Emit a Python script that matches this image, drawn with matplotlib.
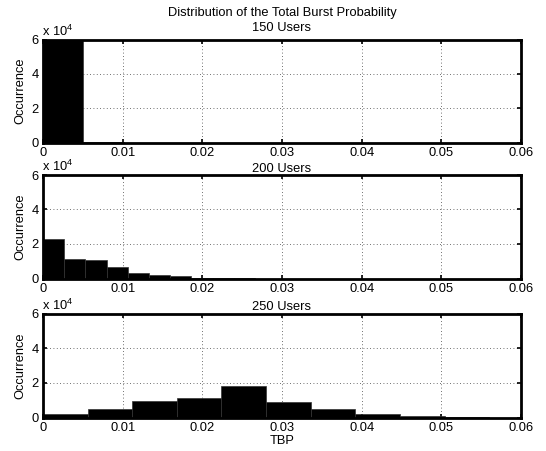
import numpy as np
import matplotlib
matplotlib.use("Agg")
import matplotlib.pyplot as plt

plt.rcParams['font.family'] = ['Liberation Sans', 'DejaVu Sans']
plt.rcParams['mathtext.fontset'] = 'custom'
plt.rcParams['mathtext.rm'] = 'Liberation Sans'
plt.rcParams['mathtext.it'] = 'Liberation Sans'

# ---- data ----
titles = ["Distribution of the Total Burst Probability\n150 Users", "200 Users", "250 Users"]

edges_150 = [0.0, 0.00506, 0.01012, 0.01518, 0.02024, 0.0253, 0.03036, 0.03542, 0.04048, 0.04554, 0.0506]
counts_150 = [59600, 400, 0, 0, 0, 0, 0, 0, 0, 0]

edges_200 = [0.0, 0.00266, 0.00532, 0.00798, 0.01064, 0.0133, 0.01596, 0.01862, 0.02128, 0.02394, 0.0266]
counts_200 = [22800, 11100, 10700, 6600, 3100, 2300, 1300, 500, 150, 50]

edges_250 = [0.0, 0.0056, 0.0112, 0.0168, 0.0224, 0.028, 0.0336, 0.0392, 0.0448, 0.0504, 0.056]
counts_250 = [2000, 4700, 9300, 11300, 18000, 8900, 5100, 2300, 1000, 400]

xticks = [0, 0.01, 0.02, 0.03, 0.04, 0.05, 0.06]
xticklabels = ["0", "0.01", "0.02", "0.03", "0.04", "0.05", "0.06"]
yticks = [0, 20000, 40000, 60000]
yticklabels = ["0", "2", "4", "6"]

panels = [(edges_150, counts_150), (edges_200, counts_200), (edges_250, counts_250)]

W, H = 546, 451
fig = plt.figure(figsize=(W / 100, H / 100), dpi=100)

# axes boxes in pixels: (top, bottom)
boxes = [(39.5, 142.5), (175, 278.5), (313.5, 417.5)]
left_px, right_px = 43, 521

fs = 9.3
for i, ((edges, counts), title, (tp, bp)) in enumerate(zip(panels, titles, boxes)):
    ax = fig.add_axes([left_px / W, 1 - bp / H, (right_px - left_px) / W, (bp - tp) / H])
    e = np.array(edges)
    ax.bar(e[:-1], counts, width=np.diff(e), align='edge', color='black',
           edgecolor='#333333', linewidth=0.5, zorder=2)
    ax.set_xlim(0, 0.06)
    ax.set_ylim(0, 60000)
    ax.set_xticks(xticks)
    ax.set_xticklabels(xticklabels, fontsize=fs)
    ax.set_yticks(yticks)
    ax.set_yticklabels(yticklabels, fontsize=fs)
    ax.tick_params(direction='in', top=True, right=True, length=3, width=1.2, pad=3)
    ax.grid(True, linestyle=(0, (1, 3)), color='black', linewidth=0.6, alpha=0.75, zorder=1)
    ax.set_axisbelow(True)
    for s in ax.spines.values():
        s.set_linewidth(2.0)
        s.set_zorder(5)
    ax.set_title(title, fontsize=fs, pad=(6.0 if i == 0 else 2.5), linespacing=1.3)
    ax.set_ylabel("Occurrence", fontsize=fs, labelpad=4)
    ax.text(-0.002, 1.005, r"x 10$^{4}$", transform=ax.transAxes, fontsize=fs,
            ha='left', va='bottom')
    if i == 2:
        ax.set_xlabel("TBP", fontsize=fs, labelpad=1)

fig.savefig("out.png", dpi=100)
